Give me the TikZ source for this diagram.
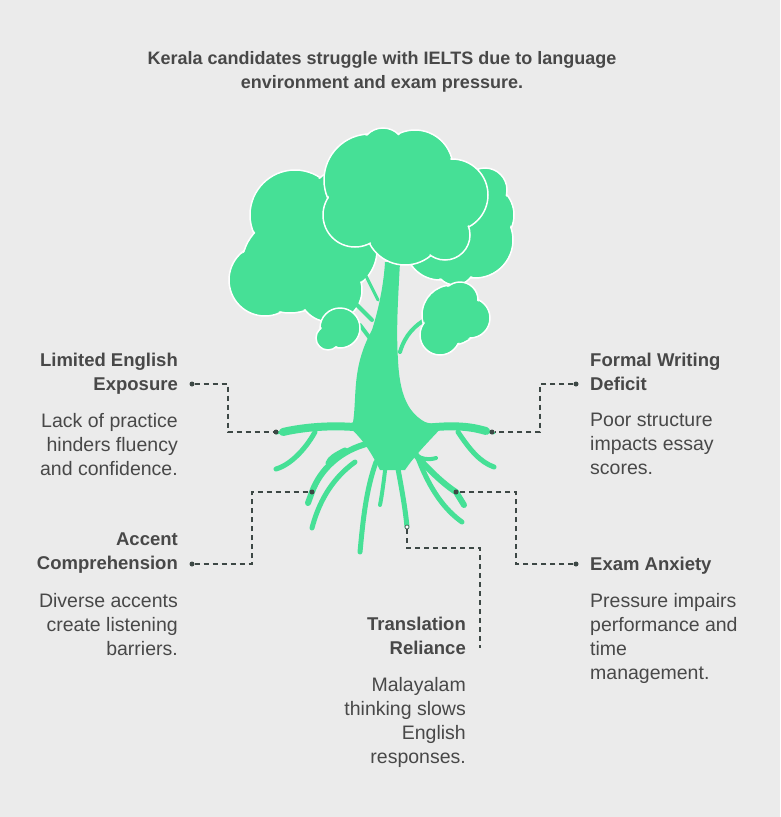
\documentclass[tikz,border=0pt]{standalone}
\usepackage{fontspec}
\setmainfont{Liberation Sans}
\definecolor{bg}{HTML}{EBEBEB}
\definecolor{leaf}{HTML}{46E096}
\definecolor{txt}{HTML}{484848}
\definecolor{con}{HTML}{3D4845}
\begin{document}
\begin{tikzpicture}[x=1pt,y=-1pt,
  head/.style={font=\fontsize{18.5}{24}\selectfont\bfseries, text=txt, inner sep=0},
  body/.style={font=\fontsize{19.5}{24}\selectfont, text=txt, inner sep=0},
  conn/.style={draw=con, line width=1.4pt, dashed, dash pattern=on 5pt off 4pt},
  dot/.style={circle, fill=con, inner sep=0, minimum size=5pt},
  blob/.style={fill=leaf, draw=white, line width=1.5pt},
  root/.style={draw=leaf, line cap=round, line join=round}]
\fill[bg] (0,0) rectangle (780,817);
\useasboundingbox (0,0) rectangle (780,817);
\node[font=\fontsize{18}{24}\selectfont\bfseries, text=txt, align=center] (title) at (382,72) {Kerala candidates struggle with IELTS due to language\\environment and exam pressure.};
% left canopy
\foreach \x/\y/\r in {295/215/45, 265/280/36, 290/265/48, 335/250/42, 330/290/32, 340/200/30}
  \filldraw[blob] (\x,\y) circle (\r);
\fill[leaf] (295,215) circle (43.5) (265,280) circle (34.5) (290,265) circle (46.5) (335,250) circle (40.5) (330,290) circle (30.5) (340,200) circle (28.5);
% right canopy
\foreach \x/\y/\r in {482/215/32, 475/240/38, 440/245/35, 485/190/22, 455/265/20}
  \filldraw[blob] (\x,\y) circle (\r);
\fill[leaf] (482,215) circle (30.5) (475,240) circle (36.5) (440,245) circle (33.5) (485,190) circle (20.5) (455,265) circle (18.5);
% trunk
\fill[leaf] (352,428) .. controls (358,400) and (350,370) .. (372,330)
  .. controls (380,305) and (384,280) .. (385,262) -- (400,262)
  .. controls (398,300) and (396,330) .. (398,360)
  .. controls (400,400) and (410,420) .. (440,428) -- cycle;
\draw[root, line width=4pt] (372,320) -- (340,288);
\draw[root, line width=3pt] (378,300) -- (362,268);
\draw[root, line width=4pt] (400,352) .. controls (405,335) and (415,325) .. (428,318);
\draw[root, line width=4pt] (375,345) -- (360,325);
% center canopy
\foreach \x/\y/\r in {370/180/46, 415/168/38, 452/195/36, 405/225/40, 355/215/32, 445/235/25, 383/150/22}
  \filldraw[blob] (\x,\y) circle (\r);
\fill[leaf] (370,180) circle (44.5) (415,168) circle (36.5) (452,195) circle (34.5) (405,225) circle (38.5) (355,215) circle (30.5) (445,235) circle (23.5) (383,150) circle (20.5);
% side small canopies
\foreach \x/\y/\r in {452/315/30, 470/318/20, 440/335/20, 460/300/18}
  \filldraw[blob] (\x,\y) circle (\r);
\fill[leaf] (452,315) circle (28.5) (470,318) circle (18.5) (440,335) circle (18.5) (460,300) circle (16.5);
\foreach \x/\y/\r in {340/328/20, 328/338/12}
  \filldraw[blob] (\x,\y) circle (\r);
\fill[leaf] (340,328) circle (18.5) (328,338) circle (10.5);
% root base
\fill[leaf] (345,424) .. controls (360,424) and (365,410) .. (370,400) -- (405,400)
  .. controls (410,420) and (425,425) .. (445,424)
  .. controls (430,440) and (415,455) .. (405,470) -- (380,470)
  .. controls (370,450) and (360,435) .. cycle;
% roots
\draw[root, line width=8pt] (365,428) .. controls (330,424) and (300,428) .. (283,432);
\draw[root, line width=3pt] (283,432) -- (276,433);
\draw[root, line width=8pt] (425,428) .. controls (460,424) and (475,428) .. (486,431);
\draw[root, line width=3pt] (486,431) -- (494,433);
\draw[root, line width=5pt] (315,432) .. controls (305,450) and (290,465) .. (276,469);
\draw[root, line width=5pt] (458,432) .. controls (470,450) and (480,462) .. (494,467);
\draw[root, line width=6pt] (370,443) .. controls (340,450) and (320,470) .. (312,492) -- (308,503);
\draw[root, line width=5pt] (345,450) .. controls (335,455) and (330,458) .. (328,463);
\draw[root, line width=5pt] (355,462) .. controls (330,480) and (318,505) .. (312,528);
\draw[root, line width=5pt] (376,462) .. controls (366,490) and (363,520) .. (360,552);
\draw[root, line width=4pt] (386,462) .. controls (384,480) and (382,495) .. (380,505);
\draw[root, line width=5pt] (396,458) .. controls (400,480) and (405,505) .. (407,527);
\draw[root, line width=6pt] (410,448) .. controls (428,470) and (445,485) .. (456,492) -- (464,505);
\draw[root, line width=5pt] (418,458) .. controls (430,490) and (445,510) .. (462,522);
\draw[root, line width=4pt] (412,452) .. controls (420,460) and (430,460) .. (436,458);
% connectors
\node[dot] (le) at (192,384) {}; \node[dot] (lr) at (276,432) {};
\draw[conn] (le) -| (228,432) -- (lr);
\node[dot] (fe) at (576,384) {}; \node[dot] (fr) at (492,432) {};
\draw[conn] (fe) -| (540,432) -- (fr);
\node[dot] (ae) at (192,564) {}; \node[dot] (ar) at (312,492) {};
\draw[conn] (ae) -| (252,492) -- (ar);
\node[dot] (ee) at (576,564) {}; \node[dot] (er) at (456,492) {};
\draw[conn] (ee) -| (516,492) -- (er);
\node[circle, draw=con, fill=white, inner sep=0, minimum size=4pt, line width=0.6pt] (tr) at (407,527) {};
\coordinate (te) at (480,648);
\draw[conn] (tr) |- (480,548) -- (te);
% texts
\node[head, anchor=north east, align=right] (h1) at (178,353) {Limited English\\Exposure};
\node[body, anchor=north east, align=right] (b1) at (178,413) {Lack of practice\\hinders fluency\\and confidence.};
\node[head, anchor=north west, align=left] (h2) at (590,353) {Formal Writing\\Deficit};
\node[body, anchor=north west, align=left] (b2) at (590,413) {Poor structure\\impacts essay\\scores.};
\node[head, anchor=north east, align=right] (h3) at (178,533) {Accent\\Comprehension};
\node[body, anchor=north east, align=right] (b3) at (178,593) {Diverse accents\\create listening\\barriers.};
\node[head, anchor=north west, align=left] (h4) at (590,557) {Exam Anxiety};
\node[body, anchor=north west, align=left] (b4) at (590,593) {Pressure impairs\\performance and\\time\\management.};
\node[head, anchor=north east, align=right] (h5) at (466,617) {Translation\\Reliance};
\node[body, anchor=north east, align=right] (b5) at (466,677) {Malayalam\\thinking slows\\English\\responses.};
\end{tikzpicture}
\end{document}
